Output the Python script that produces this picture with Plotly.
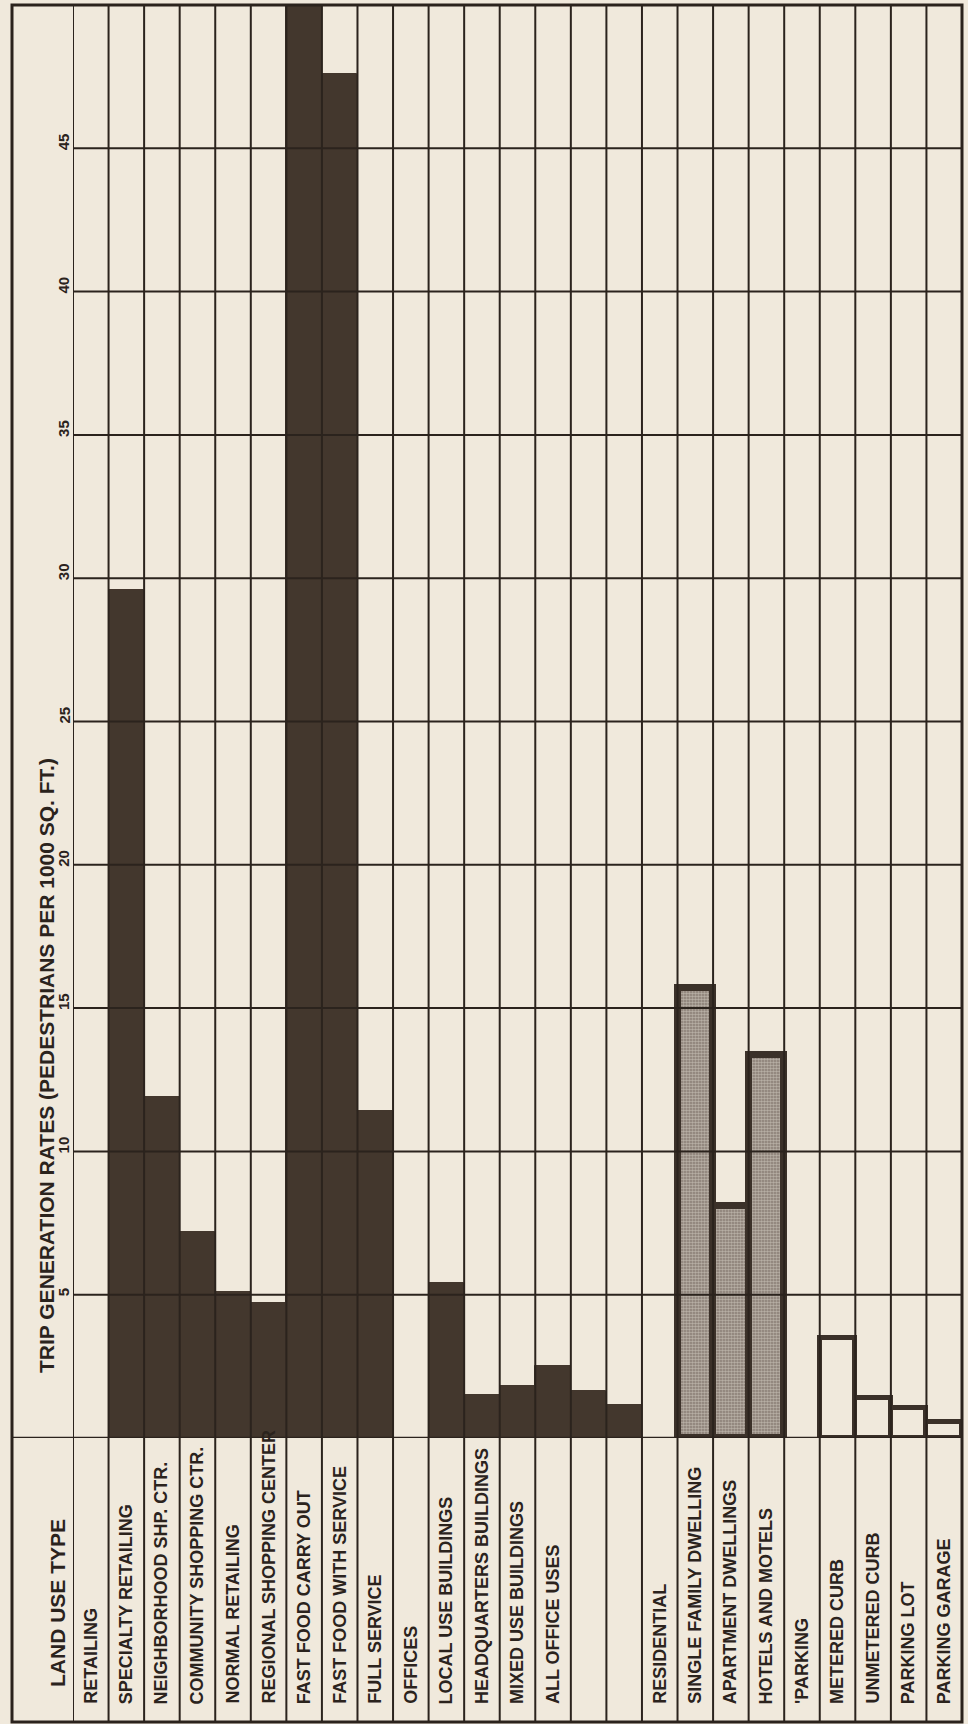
import plotly.graph_objects as go

# land use categories, left to right (two unlabeled columns in the office block)
categories = [
    "RETAILING", "SPECIALTY RETAILING", "NEIGHBORHOOD SHP. CTR.",
    "COMMUNITY SHOPPING CTR.", "NORMAL RETAILING", "REGIONAL SHOPPING CENTER",
    "FAST FOOD CARRY OUT", "FAST FOOD WITH SERVICE", "FULL SERVICE",
    "OFFICES", "LOCAL USE BUILDINGS", "HEADQUARTERS BUILDINGS",
    "MIXED USE BUILDINGS", "ALL OFFICE USES", "", "",
    "RESIDENTIAL", "SINGLE FAMILY DWELLING", "APARTMENT DWELLINGS", "HOTELS AND MOTELS",
    "'PARKING", "METERED CURB", "UNMETERED CURB", "PARKING LOT", "PARKING GARAGE",
]
groups = (["Retailing"] * 9 + ["Offices"] * 7 + ["Residential"] * 4 + ["Parking"] * 5)

# trip generation rates (pedestrians per 1000 sq. ft.), None = group heading
rates = [
    None, 29.6, 11.9, 7.2, 5.1, 4.7, 50.0, 47.6, 11.4,
    None, 5.4, 1.5, 1.8, 2.5, 1.65, 1.15,
    None, 15.7, 8.1, 13.35,
    None, 3.5, 1.4, 1.05, 0.55,
]

tick_values = [5, 10, 15, 20, 25, 30, 35, 40, 45]
tick_labels = ["5", "10", "15", "20", "25", "30", "35", "40", "45"]

title_text = "TRIP GENERATION RATES (PEDESTRIANS PER 1000 SQ. FT.)"
header_text = "LAND USE TYPE"

PAPER = "#f0e9dc"
INK = "#2b231d"
DARK = "#43372d"
FONT = "Liberation Sans, Arial, sans-serif"

group_style = {"Retailing": "solid", "Offices": "solid",
               "Residential": "stipple", "Parking": "outline"}

# page geometry (pixels)
W, H = 968, 1724
L, R, T, B = 73, 6, 5, 286
plot_w = W - L - R
plot_h = H - T - B


def px_x(px):
    return (px - L) / plot_w


def px_y(py):
    return (H - B - py) / plot_h


def pick(style):
    xs, ys = [], []
    for i, (g, v) in enumerate(zip(groups, rates)):
        if v is not None and group_style[g] == style:
            xs.append(i)
            ys.append(v)
    return xs, ys


fig = go.Figure()

xs, ys = pick("solid")
fig.add_trace(go.Bar(x=xs, y=ys, width=1,
                     marker=dict(color=DARK, line=dict(color=DARK, width=1))))

xs, ys = pick("stipple")
fig.add_trace(go.Bar(x=xs, y=ys, width=1,
                     marker=dict(color="#a89e93",
                                 pattern=dict(shape=".", fgcolor="#e8e2d8", bgcolor="#857a70",
                                              size=3, solidity=0.55),
                                 line=dict(color="#3b3129", width=7))))

xs, ys = pick("outline")
fig.add_trace(go.Bar(x=xs, y=ys, width=1,
                     marker=dict(color=PAPER, line=dict(color="#3b3129", width=5))))

n = len(categories)
shapes = []
# horizontal grid lines drawn over the bars
for v in tick_values:
    shapes.append(dict(type="line", xref="x", yref="y", x0=-0.5, x1=n - 0.5, y0=v, y1=v,
                       line=dict(color=INK, width=2), layer="above"))
# column rules through chart and label rows
for i in range(n):
    shapes.append(dict(type="line", xref="x", yref="paper", x0=i - 0.5, x1=i - 0.5,
                       y0=px_y(1722), y1=1, line=dict(color=INK, width=2), layer="above"))
# baseline / header row rule
shapes.append(dict(type="line", xref="paper", yref="y", x0=px_x(12), x1=1, y0=0, y1=0,
                   line=dict(color=INK, width=2.5), layer="above"))
# outer frame
shapes.append(dict(type="rect", xref="paper", yref="paper", x0=px_x(12), x1=1,
                   y0=px_y(1722), y1=1, line=dict(color=INK, width=3), layer="above"))

annotations = []
for i, name in enumerate(categories):
    if not name:
        continue
    annotations.append(dict(x=i, xref="x", y=px_y(1706), yref="paper", text=name,
                            textangle=-90, xanchor="center", yanchor="bottom",
                            showarrow=False,
                            font=dict(size=18, color=INK, family=FONT, weight="bold")))
for v, lab in zip(tick_values, tick_labels):
    annotations.append(dict(x=-0.5, xref="x", xshift=1, y=v, yref="y", yshift=-4,
                            text=lab, textangle=-90, xanchor="right", yanchor="bottom",
                            showarrow=False,
                            font=dict(size=15, color=INK, family=FONT, weight="bold")))
annotations.append(dict(x=-0.5, xref="x", xshift=-27, y=px_y(1066), yref="paper",
                        text=title_text, textangle=-90, xanchor="center", yanchor="middle",
                        showarrow=False,
                        font=dict(size=21, color=INK, family=FONT, weight="bold")))
annotations.append(dict(x=-0.5, xref="x", xshift=-16, y=px_y(1603), yref="paper",
                        text=header_text, textangle=-90, xanchor="center", yanchor="middle",
                        showarrow=False,
                        font=dict(size=21, color=INK, family=FONT, weight="bold")))

fig.update_layout(
    width=W, height=H,
    margin=dict(l=L, r=R, t=T, b=B, pad=0),
    paper_bgcolor=PAPER, plot_bgcolor=PAPER,
    showlegend=False, bargap=0, barmode="overlay",
    shapes=shapes, annotations=annotations,
)
fig.update_xaxes(range=[-0.5, n - 0.5], showgrid=False, zeroline=False,
                 showticklabels=False, showline=False, fixedrange=True)
fig.update_yaxes(range=[0, 50], showgrid=False, zeroline=False,
                 showticklabels=False, showline=False, fixedrange=True)

# drop the browser's default body margin so the figure sits at the page origin
fig.write_html("out.html", config={"displayModeBar": False},
               post_script="document.body.style.margin='0';")
